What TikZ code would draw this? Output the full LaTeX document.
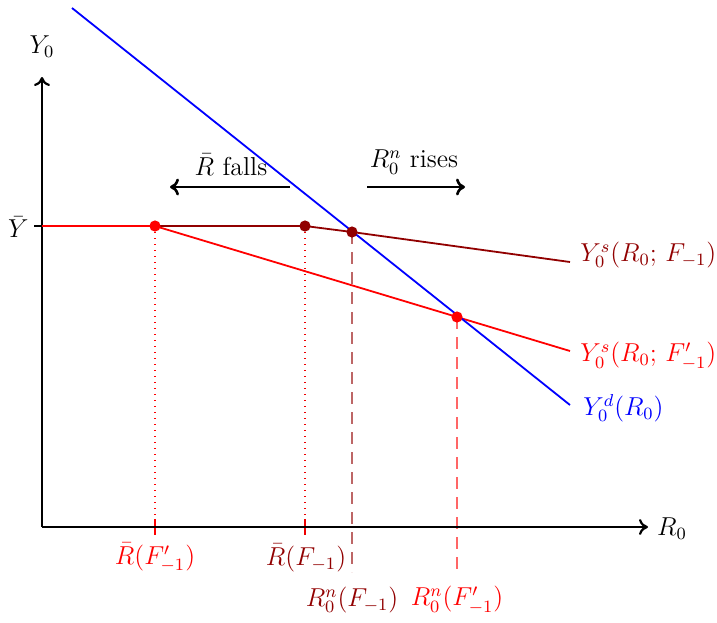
\documentclass[tikz,border=0pt]{standalone}
\usepackage{graphicx}
\usetikzlibrary{arrows.meta}
\definecolor{dred}{RGB}{145,0,0}
\newcommand{\bigtxt}[1]{\scalebox{1.08}{#1}}
\begin{document}
\begin{tikzpicture}[x=0.5pt,y=-0.5pt,
  axisline/.style={line width=1.1pt,-{To[length=4.5pt,width=8pt]}},
  curveline/.style={line width=0.9pt},
  dotnode/.style={circle,inner sep=0pt,minimum size=5.6pt},
  lbl/.style={font=\large,inner sep=1pt},
  movearrow/.style={line width=1.3pt,-{To[length=4.5pt,width=8.5pt]}}]
\useasboundingbox (0,0) rectangle (717,622);
% coordinates
\coordinate (O) at (42,527);
\coordinate (ytop) at (42,77);
\coordinate (xend) at (648,527);
\coordinate (ybar) at (42,226);
\coordinate (yt) at (34,226);
\coordinate (A) at (155,226);
\coordinate (B) at (305,226);
\coordinate (C) at (352,232);
\coordinate (D) at (457,317);
\coordinate (Bend) at (570,262);
\coordinate (Aend) at (570,351);
\coordinate (Ds) at (72,8);
\coordinate (De) at (570,405);
\coordinate (Ab) at (155,535);
\coordinate (Bb) at (305,535);
\coordinate (At) at (155,519);
\coordinate (Bt) at (305,519);
\coordinate (Cb) at (352,572);
\coordinate (Db) at (457,572);
\coordinate (f1) at (290,187);
\coordinate (f2) at (170,187);
\coordinate (r1) at (367,187);
\coordinate (r2) at (465,187);
% vertical guides
\draw[red,line width=0.6pt,dash pattern=on 0.6pt off 2.4pt] (A) -- (Ab);
\draw[red,line width=0.6pt] (At) -- (Ab);
\draw[red!85!dred,line width=0.6pt,dash pattern=on 0.6pt off 2.4pt] (B) -- (Bb);
\draw[red!85!dred,line width=0.6pt] (Bt) -- (Bb);
\draw[dred,opacity=0.6,line width=0.8pt,dash pattern=on 6pt off 4pt] (C) -- (Cb);
\draw[red,opacity=0.6,line width=0.8pt,dash pattern=on 6pt off 4pt] (D) -- (Db);
% axes
\draw[axisline] (O) -- (ytop);
\draw[axisline] (O) -- (xend);
\draw[line width=0.6pt] (yt) -- (ybar);
\node[lbl,anchor=center] (ylab) at (42,47) {\bigtxt{$Y_0$}};
\node[lbl,anchor=center] (xlab) at (672,529) {\bigtxt{$R_0$}};
\node[lbl,anchor=east] (ybarlab) at (31,227) {\bigtxt{$\bar{Y}$}};
% curves
\draw[dred,curveline] (A) -- (B) -- (C) -- (Bend);
\draw[red,curveline] (ybar) -- (A) -- (Aend);
\draw[blue,curveline] (Ds) -- (De);
% dots
\node[dotnode,fill=red] (pA) at (A) {};
\node[dotnode,fill=dred] (pB) at (B) {};
\node[dotnode,fill=dred] (pC) at (C) {};
\node[dotnode,fill=red] (pD) at (D) {};
% shift arrows
\draw[movearrow] (f1) -- (f2);
\draw[movearrow] (r1) -- (r2);
\node[lbl] (fl) at (231,165) {\bigtxt{$\bar{R}$ falls}};
\node[lbl] (rl) at (414,162) {\bigtxt{$R_0^n$ rises}};
% curve labels
\node[lbl,dred,anchor=west] (ls1) at (578,255) {\bigtxt{$Y_0^s(R_0;\,F_{-1})$}};
\node[lbl,red,anchor=west] (ls2) at (578,356) {\bigtxt{$Y_0^s(R_0;\,F'_{-1})$}};
\node[lbl,blue,anchor=west] (ld) at (581,408) {\bigtxt{$Y_0^d(R_0)$}};
% axis labels
\node[lbl,red] (la) at (155,558) {\bigtxt{$\bar{R}(F'_{-1})$}};
\node[lbl,dred] (lb) at (306,558) {\bigtxt{$\bar{R}(F_{-1})$}};
\node[lbl,dred] (lc) at (352,600) {\bigtxt{$R_0^n(F_{-1})$}};
\node[lbl,red] (ld2) at (457,600) {\bigtxt{$R_0^n(F'_{-1})$}};
\end{tikzpicture}
\end{document}
